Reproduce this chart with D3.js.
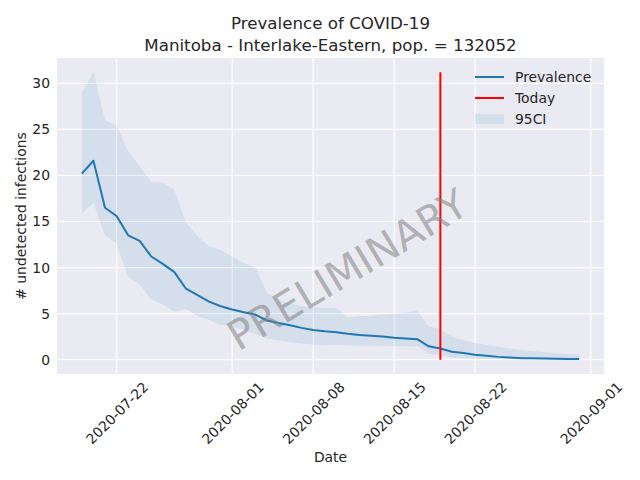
<!DOCTYPE html>
<html>
<head>
<meta charset="utf-8">
<script src="https://cdn.jsdelivr.net/npm/d3@7"></script>
<style>
  body { margin: 0; background: #fff; }
  svg, svg text { font-family: "DejaVu Sans", sans-serif; }
</style>
</head>
<body>
<div id="chart"></div>
<script>
const dates = [
  '2020-07-19', '2020-07-20', '2020-07-21', '2020-07-22', '2020-07-23', '2020-07-24',
  '2020-07-25', '2020-07-26', '2020-07-27', '2020-07-28', '2020-07-29', '2020-07-30',
  '2020-07-31', '2020-08-01', '2020-08-02', '2020-08-03', '2020-08-04', '2020-08-05',
  '2020-08-06', '2020-08-07', '2020-08-08', '2020-08-09', '2020-08-10', '2020-08-11',
  '2020-08-12', '2020-08-13', '2020-08-14', '2020-08-15', '2020-08-16', '2020-08-17',
  '2020-08-18', '2020-08-19', '2020-08-20', '2020-08-21', '2020-08-22', '2020-08-23',
  '2020-08-24', '2020-08-25', '2020-08-26', '2020-08-27', '2020-08-28', '2020-08-29',
  '2020-08-30', '2020-08-31'
];
const prevalence = [
  20.2, 21.6, 16.5, 15.6, 13.5, 12.9, 11.2, 10.4, 9.5, 7.7, 7.0, 6.3,
  5.8, 5.45, 5.15, 4.9, 4.25, 3.97, 3.73, 3.45, 3.22, 3.08, 2.98, 2.8,
  2.68, 2.6, 2.5, 2.38, 2.3, 2.22, 1.45, 1.2, 0.85, 0.72, 0.52, 0.42,
  0.3, 0.22, 0.16, 0.14, 0.11, 0.1, 0.08, 0.07
];
const upper = [
  29.0, 31.2, 26.0, 25.4, 22.6, 21.0, 19.3, 19.2, 18.4, 14.9, 13.4, 12.3,
  11.9, 11.2, 10.5, 10.0, 7.3, 6.5, 6.1, 5.8, 5.65, 5.6, 5.6, 4.6,
  4.7, 4.75, 4.9, 5.0, 5.1, 5.3, 3.6, 3.3, 2.5, 2.1, 1.8, 1.6,
  1.4, 1.2, 1.05, 0.9, 0.8, 0.7, 0.6, 0.55
];
const lower = [
  15.9, 17.0, 13.5, 12.6, 9.0, 8.2, 6.5, 6.0, 5.2, 5.5, 4.7, 4.3,
  3.8, 3.6, 3.25, 2.75, 2.3, 2.1, 1.9, 1.75, 1.65, 1.6, 1.55, 1.55,
  1.5, 1.5, 1.5, 1.48, 1.45, 1.45, 0.65, 0.45, 0.25, 0.15, 0.1, 0.07,
  0.05, 0.04, 0.03, 0.02, 0.02, 0.01, 0.01, 0.01
];
const today = '2020-08-19';
const xTickLabels = ['2020-07-22', '2020-08-01', '2020-08-08', '2020-08-15', '2020-08-22', '2020-09-01'];
const yTicks = [0, 5, 10, 15, 20, 25, 30];

const width = 640;
const height = 480;
let [mt, mr, mb, ml] = [58, 36, 106, 57];
const blue = '#1f77b4';
const font = 'DejaVu Sans';

const parse = d3.utcParse('%Y-%m-%d');
const data = dates.map((d, i) => ({
  date: parse(d), value: prevalence[i], hi: upper[i], lo: lower[i]
}));

const svg = d3.select('#chart')
  .append('svg')
  .attr('width', width)
  .attr('height', height)
  .attr('viewBox', [0, 0, width, height]);

const graphWidth = width - ml - mr;
const graphHeight = height - mt - mb;

const graph = svg.append('g')
  .attr('transform', `translate(${ml},${mt})`);

// matplotlib-like 5% margins
const [x0, x1] = d3.extent(data, d => d.date);
const xPad = (x1 - x0) * 0.05;
const x = d3.scaleUtc()
  .domain([new Date(+x0 - xPad), new Date(+x1 + xPad)])
  .range([0, graphWidth]);

const yLo = Math.min(0, d3.min(lower));
const yHi = d3.max(upper);
const yPad = (yHi - yLo) * 0.05;
const y = d3.scaleLinear()
  .domain([yLo - yPad, yHi + yPad])
  .range([graphHeight, 0]);

graph.append('rect')
  .attr('width', graphWidth)
  .attr('height', graphHeight)
  .attr('fill', '#eaeaf2');

// grid
const xTicks = xTickLabels.map(parse);
graph.append('g')
  .selectAll('line')
  .data(xTicks)
  .join('line')
  .attr('x1', d => x(d)).attr('x2', d => x(d))
  .attr('y1', 0).attr('y2', graphHeight)
  .attr('stroke', '#fff').attr('stroke-width', 1.2);
graph.append('g')
  .selectAll('line')
  .data(yTicks)
  .join('line')
  .attr('x1', 0).attr('x2', graphWidth)
  .attr('y1', d => y(d)).attr('y2', d => y(d))
  .attr('stroke', '#fff').attr('stroke-width', 1.2);

// 95CI band
const area = d3.area()
  .x(d => x(d.date))
  .y0(d => y(d.lo))
  .y1(d => y(d.hi));
graph.append('path')
  .attr('d', area(data))
  .attr('fill', blue)
  .attr('fill-opacity', 0.1);

// prevalence line
const line = d3.line()
  .x(d => x(d.date))
  .y(d => y(d.value));
graph.append('path')
  .attr('d', line(data))
  .attr('fill', 'none')
  .attr('stroke', blue)
  .attr('stroke-width', 2)
  .attr('stroke-linejoin', 'round');

// today
graph.append('line')
  .attr('x1', x(parse(today))).attr('x2', x(parse(today)))
  .attr('y1', y(0)).attr('y2', y(yHi))
  .attr('stroke', 'red')
  .attr('stroke-width', 2);

// watermark
graph.append('text')
  .attr('transform', `translate(${graphWidth * 0.531},${graphHeight * 0.671}) rotate(-31)`)
  .attr('text-anchor', 'middle')
  .attr('dominant-baseline', 'central')
  .attr('font-family', font)
  .attr('font-size', 41)
  .attr('fill', '#808080')
  .attr('fill-opacity', 0.55)
  .text('PRELIMINARY');

// axes
const xAxis = d3.axisBottom(x).tickValues(xTicks).tickFormat(d3.utcFormat('%Y-%m-%d')).tickSize(0);
const yAxis = d3.axisLeft(y).tickValues(yTicks).tickSize(0).tickPadding(7);

const xAxisG = graph.append('g')
  .attr('transform', `translate(0,${graphHeight})`)
  .call(xAxis)
  .attr('font-family', font);
xAxisG.select('.domain').remove();
xAxisG.selectAll('text')
  .attr('font-size', 13.9)
  .attr('fill', '#262626')
  .attr('dy', null)
  .attr('y', null)
  .attr('text-anchor', 'middle')
  .attr('dominant-baseline', 'central')
  .attr('transform', 'translate(0,39) rotate(-45)');

const yAxisG = graph.append('g').call(yAxis)
  .attr('font-family', font);
yAxisG.select('.domain').remove();
yAxisG.selectAll('text')
  .attr('font-size', 13.9)
  .attr('fill', '#262626');

// labels
svg.append('text')
  .attr('x', ml + graphWidth / 2).attr('y', 462)
  .attr('text-anchor', 'middle')
  .attr('font-size', 13.9).attr('fill', '#262626')
  .text('Date');
svg.append('text')
  .attr('transform', `translate(26,${mt + graphHeight / 2}) rotate(-90)`)
  .attr('text-anchor', 'middle')
  .attr('font-size', 13.9).attr('fill', '#262626')
  .text('# undetected infections');

svg.append('text')
  .attr('x', ml + graphWidth / 2).attr('y', 29)
  .attr('text-anchor', 'middle')
  .attr('font-size', 16.7).attr('fill', '#262626')
  .text('Prevalence of COVID-19');
svg.append('text')
  .attr('x', ml + graphWidth / 2).attr('y', 51)
  .attr('text-anchor', 'middle')
  .attr('font-size', 16.7).attr('fill', '#262626')
  .text('Manitoba - Interlake-Eastern, pop. = 132052');

// legend
const legend = graph.append('g')
  .attr('transform', `translate(${graphWidth - 129},19)`);
const items = [
  { name: 'Prevalence', kind: 'line', color: blue },
  { name: 'Today', kind: 'line', color: 'red' },
  { name: '95CI', kind: 'patch', color: blue }
];
items.forEach((it, i) => {
  const g = legend.append('g').attr('transform', `translate(0,${i * 21})`);
  if (it.kind === 'line') {
    g.append('line')
      .attr('x1', 0).attr('x2', 29).attr('y1', 0).attr('y2', 0)
      .attr('stroke', it.color).attr('stroke-width', 2);
  } else {
    g.append('rect')
      .attr('x', 0).attr('y', -5).attr('width', 29).attr('height', 10)
      .attr('fill', it.color).attr('fill-opacity', 0.1);
  }
  g.append('text')
    .attr('x', 40).attr('y', 0)
    .attr('dominant-baseline', 'central')
    .attr('font-size', 13.9).attr('fill', '#262626')
    .text(it.name);
});
</script>
</body>
</html>
